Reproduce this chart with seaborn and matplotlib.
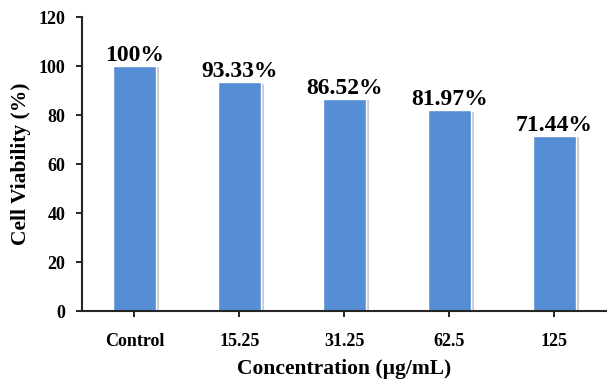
import matplotlib
matplotlib.use("Agg")
import matplotlib.pyplot as plt
import matplotlib.patheffects as pe
import seaborn as sns
import pandas as pd

# valores
concentracoes = ["Control", "15.25", "31.25", "62.5", "125"]
viabilidade = [100, 93.33, 86.52, 81.97, 71.44]
rotulos = ["100%", "93.33%", "86.52%", "81.97%", "71.44%"]

dados = pd.DataFrame({"conc": concentracoes, "viab": viabilidade})

sns.set_style("ticks")
plt.rcParams["font.family"] = ["Liberation Serif", "DejaVu Serif"]
plt.rcParams["font.weight"] = "bold"
plt.rcParams["text.color"] = "black"
plt.rcParams["axes.labelcolor"] = "black"

fig = plt.figure(figsize=(6.07, 3.79), dpi=100)
ax = fig.add_axes([0.135, 0.179, 0.865, 0.776])

sns.barplot(data=dados, x="conc", y="viab", color="#558ED5", saturation=1,
            width=0.41, ax=ax)

for barra in ax.patches:
    barra.set_path_effects([pe.SimplePatchShadow(offset=(2, -1), shadow_rgbFace="#999999", alpha=0.5),
                            pe.Normal()])

for i, (v, r) in enumerate(zip(viabilidade, rotulos)):
    ax.text(i, v + 0.2, r, ha="center", va="bottom", fontsize=17, fontweight="bold", color="black")

ax.set_ylim(0, 120)
ax.set_xlim(-0.5, 4.5)
ax.set_yticks(range(0, 121, 20))
ax.tick_params(axis="both", labelsize=13, width=1.2, length=4, colors="black")
ax.tick_params(axis="x", pad=12)
ax.tick_params(axis="y", pad=8)
for lab in ax.get_xticklabels() + ax.get_yticklabels():
    lab.set_fontweight("bold")

ax.set_xlabel("Concentration (µg/mL)", fontsize=15.5, fontweight="bold", labelpad=6)
ax.set_ylabel("Cell Viability (%)", fontsize=15.5, fontweight="bold", labelpad=5)

sns.despine(ax=ax)
ax.spines["left"].set_linewidth(1.5)
ax.spines["bottom"].set_linewidth(1.5)

plt.savefig("out.png", dpi=100)
